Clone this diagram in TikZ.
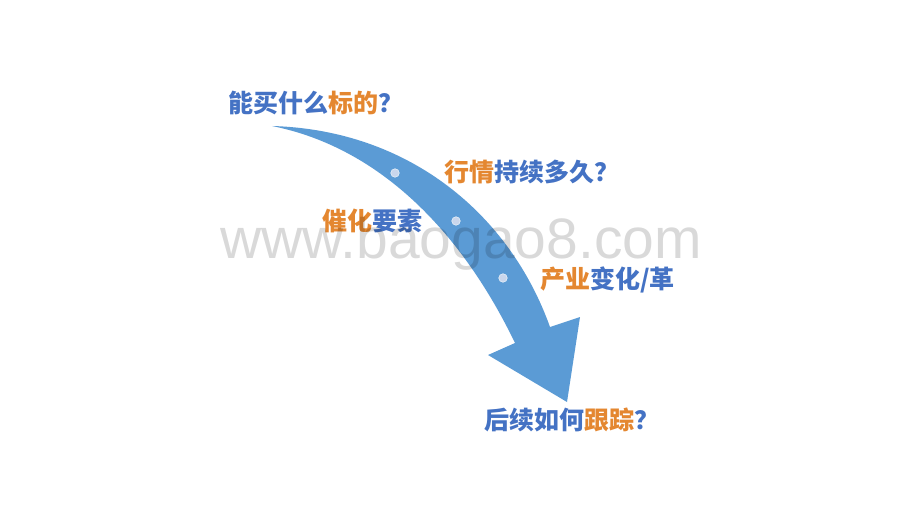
\documentclass[tikz,border=0pt]{standalone}
\usepackage{fontspec}
\newfontfamily\cjk{Noto Sans CJK SC}
\newfontfamily\wmfont{Liberation Sans}
\definecolor{arrowblue}{HTML}{5B9BD5}
\definecolor{txtblue}{HTML}{4472C4}
\definecolor{txtorange}{RGB}{228,135,48}
\definecolor{dotfill}{HTML}{C9D6EC}
\newcommand{\bl}[1]{\textcolor{txtblue}{#1}}
\newcommand{\og}[1]{\textcolor{txtorange}{#1}}
\begin{document}
\begin{tikzpicture}[x=1pt,y=-1pt,
  lbl/.style={anchor=west,inner sep=0pt,font=\cjk\bfseries\fontsize{25}{25}\selectfont},
  dotmark/.style={circle,fill=dotfill,draw=white!85!arrowblue,line width=0.6pt,minimum size=8.5pt,inner sep=0pt}]
\useasboundingbox (0,0) rectangle (920,518);
\fill[white] (0,0) rectangle (920,518);
% curved arrow
\fill[arrowblue] (272,126) .. controls (410,130) and (510,215) .. (550,327)
  -- (580,317) -- (567,402) -- (488,355) -- (515,343)
  .. controls (463,235) and (382,148) .. (272,126) -- cycle;
\node[dotmark] (d1) at (395,173) {};
\node[dotmark] (d2) at (456,221) {};
\node[dotmark] (d3) at (503,278) {};
% labels
\node[lbl] (q1) at (228,103) {\bl{能买什么}\og{标的}\bl{？}};
\node[lbl] (q2) at (444,172) {\og{行情}\bl{持续多久？}};
\node[lbl] (q3) at (322,221) {\og{催化}\bl{要素}};
\node[lbl] (q4) at (540,280) {\og{产业}\bl{变化/革}};
\node[lbl] (q5) at (484,420) {\bl{后续如何}\og{跟踪}\bl{？}};
% watermark
\node[anchor=center,inner sep=0pt,text=black,text opacity=0.15,font=\wmfont\fontsize{57}{57}\selectfont] (wm) at (461,244) {www.baogao8.com};
\end{tikzpicture}
\end{document}
